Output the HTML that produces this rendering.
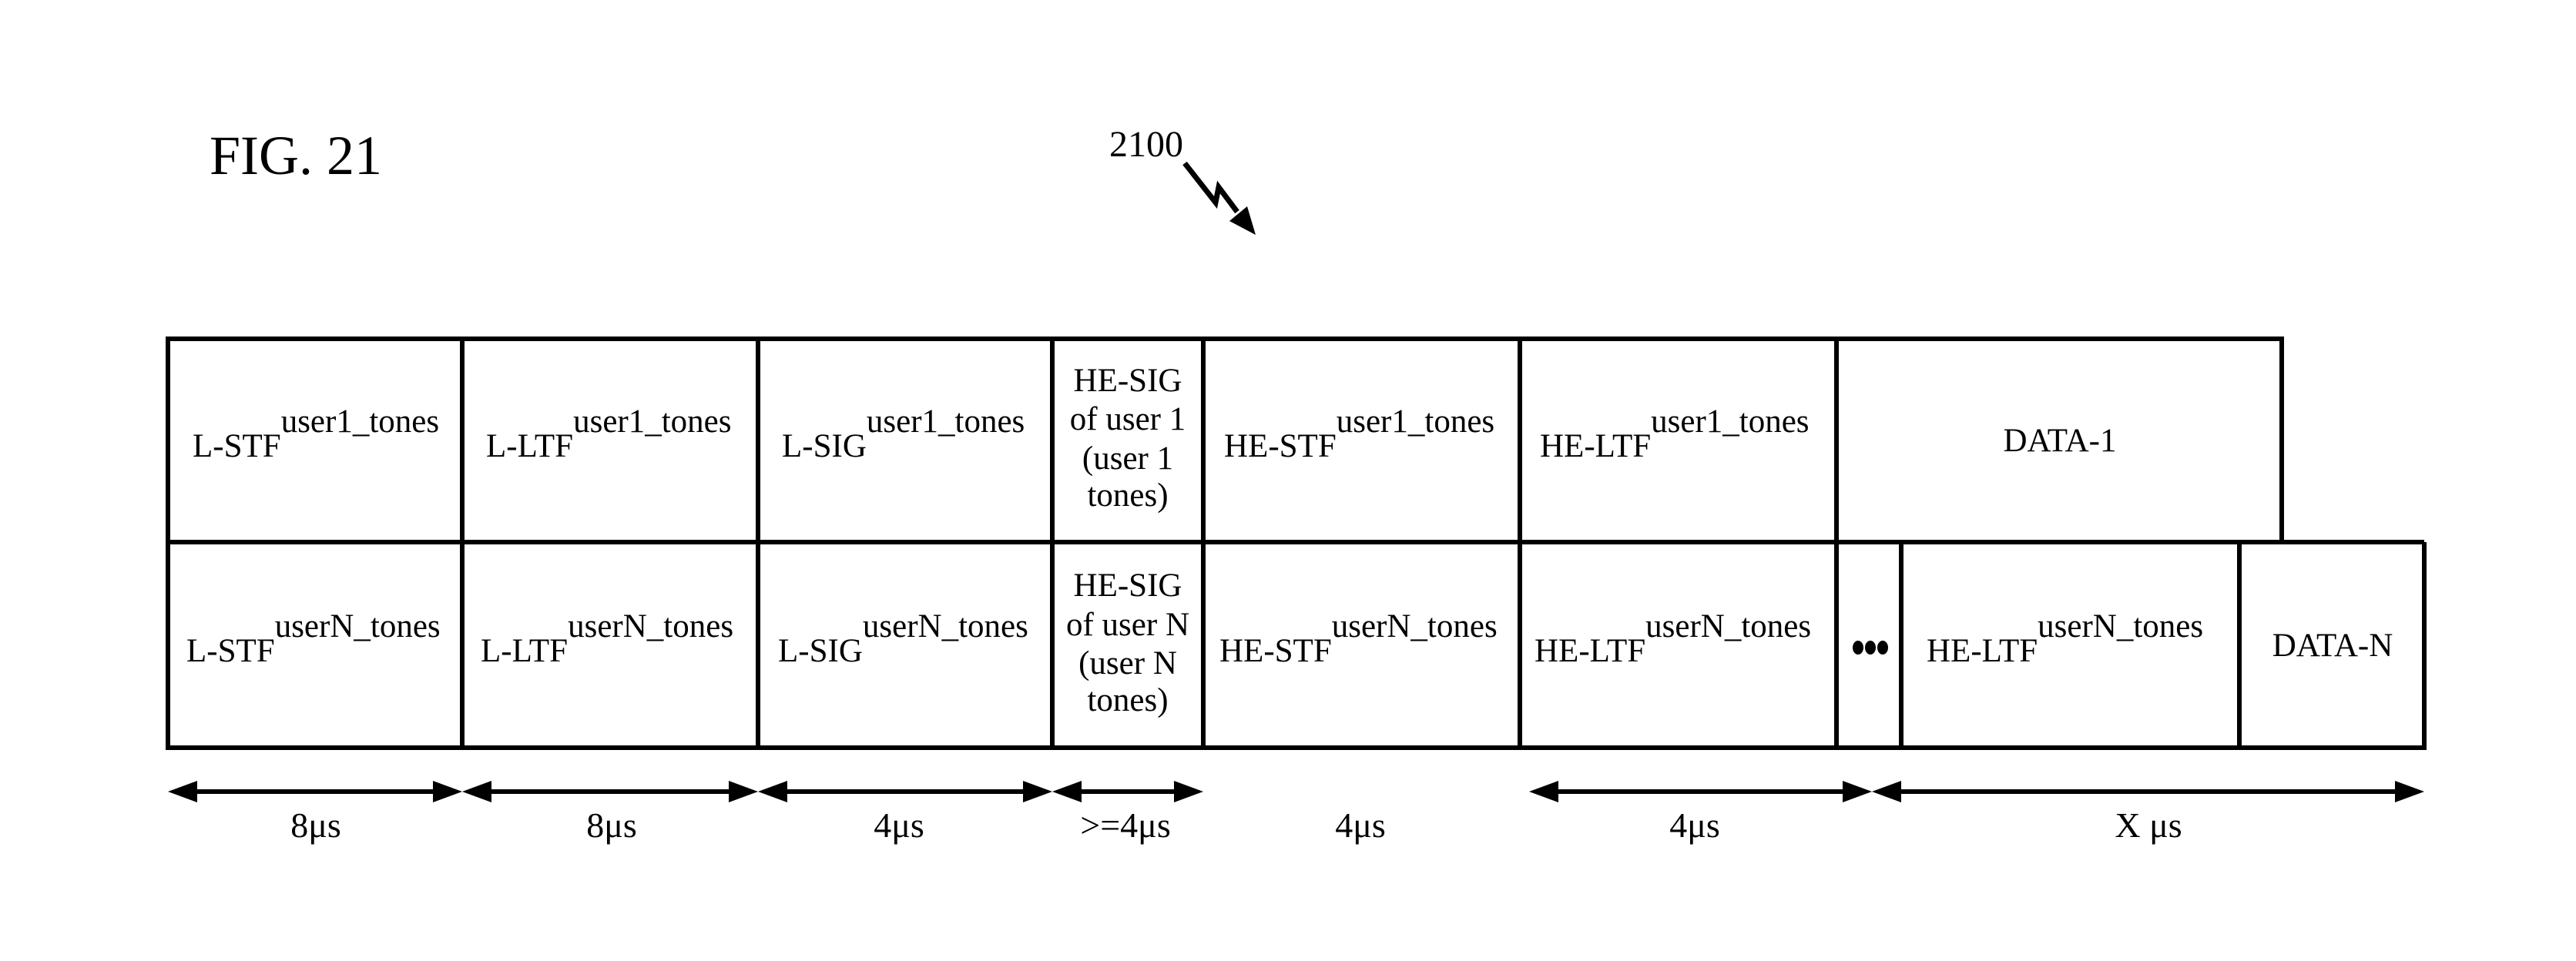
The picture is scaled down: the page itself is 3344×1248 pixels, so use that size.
<!DOCTYPE html>
<html><head><meta charset="utf-8"><style>
html,body{margin:0;padding:0;background:#fff;}
svg{display:block;}
text{font-family:"Liberation Serif",serif;fill:#000;}
</style></head><body>
<svg width="3344" height="1248" viewBox="0 0 3344 1248" xmlns="http://www.w3.org/2000/svg">
<text x="272" y="226" font-size="72">FIG. 21</text>
<text x="1440" y="203" font-size="48">2100</text>
<polyline points="1538,212 1578,263 1582,243 1606,275" fill="none" stroke="#000" stroke-width="7"/>
<polygon points="1596,287 1619,268 1630,305" fill="#000"/>

<g stroke="#000" stroke-width="6" fill="none">
<rect x="218" y="440" width="2744" height="264"/>
<line x1="218" y1="704" x2="3147" y2="704"/>
<polyline points="218,704 218,971 3147,971 3147,704"/>
<line x1="600" y1="440" x2="600" y2="971"/>
<line x1="984" y1="440" x2="984" y2="971"/>
<line x1="1366" y1="440" x2="1366" y2="971"/>
<line x1="1562" y1="440" x2="1562" y2="971"/>
<line x1="1973" y1="440" x2="1973" y2="971"/>
<line x1="2384" y1="440" x2="2384" y2="971"/>
<line x1="2468" y1="704" x2="2468" y2="971"/>
<line x1="2907" y1="704" x2="2907" y2="971"/>
</g>

<g font-size="43">
<text x="250" y="593">L-STF<tspan dy="-32">user1_tones</tspan></text>
<text x="631" y="593">L-LTF<tspan dy="-32">user1_tones</tspan></text>
<text x="1015" y="593">L-SIG<tspan dy="-32">user1_tones</tspan></text>
<text x="1589" y="593">HE-STF<tspan dy="-32">user1_tones</tspan></text>
<text x="1999" y="593">HE-LTF<tspan dy="-32">user1_tones</tspan></text>
<text x="2674" y="586" text-anchor="middle">DATA-1</text>
<g text-anchor="middle">
<text x="1464" y="508">HE-SIG</text>
<text x="1464" y="558">of user 1</text>
<text x="1464" y="609">(user 1</text>
<text x="1464" y="657">tones)</text>
<text x="1464" y="774">HE-SIG</text>
<text x="1464" y="825">of user N</text>
<text x="1464" y="875">(user N</text>
<text x="1464" y="923">tones)</text>
</g>
<text x="242" y="859">L-STF<tspan dy="-32">userN_tones</tspan></text>
<text x="624" y="859">L-LTF<tspan dy="-32">userN_tones</tspan></text>
<text x="1010" y="859">L-SIG<tspan dy="-32">userN_tones</tspan></text>
<text x="1583" y="859">HE-STF<tspan dy="-32">userN_tones</tspan></text>
<text x="1992" y="859">HE-LTF<tspan dy="-32">userN_tones</tspan></text>
<text x="2501" y="859">HE-LTF<tspan dy="-32">userN_tones</tspan></text>
<text x="3028" y="852" text-anchor="middle">DATA-N</text>
</g>
<g fill="#000">
<ellipse cx="2412" cy="841" rx="7" ry="9"/>
<ellipse cx="2428" cy="841" rx="7" ry="9"/>
<ellipse cx="2444" cy="841" rx="7" ry="9"/>
</g>

<g stroke="#000" stroke-width="6">
<line x1="240" y1="1028" x2="580" y2="1028"/>
<line x1="620" y1="1028" x2="964" y2="1028"/>
<line x1="1004" y1="1028" x2="1346" y2="1028"/>
<line x1="1386" y1="1028" x2="1542" y2="1028"/>
<line x1="2005" y1="1028" x2="2410" y2="1028"/>
<line x1="2450" y1="1028" x2="3127" y2="1028"/>
</g>
<g fill="#000">
<polygon points="218,1028 256,1014 256,1042"/><polygon points="600,1028 562,1014 562,1042"/>
<polygon points="600,1028 638,1014 638,1042"/><polygon points="984,1028 946,1014 946,1042"/>
<polygon points="984,1028 1022,1014 1022,1042"/><polygon points="1366,1028 1328,1014 1328,1042"/>
<polygon points="1366,1028 1404,1014 1404,1042"/><polygon points="1562,1028 1524,1014 1524,1042"/>
<polygon points="1985,1028 2023,1014 2023,1042"/><polygon points="2430,1028 2392,1014 2392,1042"/>
<polygon points="2430,1028 2468,1014 2468,1042"/><polygon points="3147,1028 3109,1014 3109,1042"/>
</g>
<g font-size="46" text-anchor="middle">
<text x="410" y="1087">8μs</text>
<text x="794" y="1087">8μs</text>
<text x="1167" y="1087">4μs</text>
<text x="1461" y="1087">&gt;=4μs</text>
<text x="1766" y="1087">4μs</text>
<text x="2200" y="1087">4μs</text>
<text x="2789" y="1087">X μs</text>
</g>
</svg>
</body></html>
